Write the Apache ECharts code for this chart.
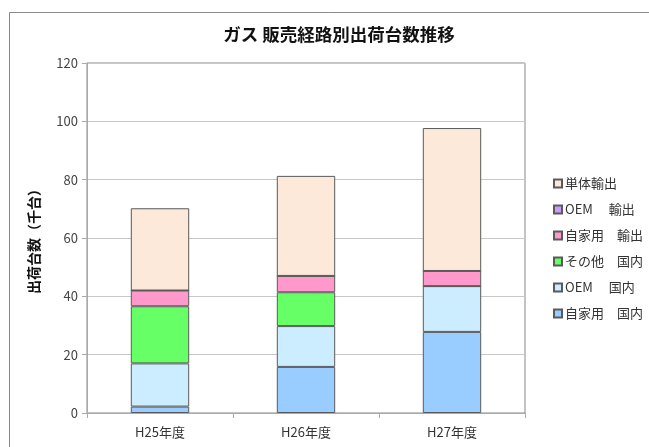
<!DOCTYPE html>
<html><head><meta charset="utf-8">
<script src="https://cdn.jsdelivr.net/npm/echarts@6/dist/echarts.min.js"></script>
<style>html,body{margin:0;padding:0;background:#fff}#c{width:649px;height:447px}</style>
</head><body><div id="c"></div>
<script>
const categories = ['H25年度', 'H26年度', 'H27年度'];
const jikaKokunai = [2.2, 15.8, 27.8];
const oemKokunai = [14.8, 14.0, 15.7];
const sonotaKokunai = [19.6, 11.6, 0];
const jikaYushutsu = [5.4, 5.6, 5.2];
const oemYushutsu = [0, 0, 0];
const tantaiYushutsu = [28.2, 34.3, 49.0];
const yTicks = [0, 20, 40, 60, 80, 100, 120];

const seriesDefs = [
  ['自家用　国内', jikaKokunai, '#99CCFF'],
  ['OEM　 国内', oemKokunai, '#CCECFF'],
  ['その他　国内', sonotaKokunai, '#66FF66'],
  ['自家用　輸出', jikaYushutsu, '#FF99CC'],
  ['OEM　 輸出', oemYushutsu, '#CC99FF'],
  ['単体輸出', tantaiYushutsu, '#FDE9D9']
];
const font = '"Noto Sans CJK JP", "Noto Sans", sans-serif';
const chart = echarts.init(document.getElementById('c'));
chart.setOption({
  animation: false,
  textStyle: {fontFamily: font},
  title: {text: 'ガス 販売経路別出荷台数推移', left: 334, top: 21, textAlign: 'center',
    textStyle: {fontSize: 17.5, fontWeight: 'bold', color: '#111', fontFamily: font}},
  graphic: [{type: 'rect', shape: {x: 9.5, y: 12.5, width: 700, height: 500},
    style: {fill: 'none', stroke: '#8a8a8a', lineWidth: 1}, silent: true}],
  grid: {left: 87, right: 124, top: 63, bottom: 34, show: true, borderColor: '#888', borderWidth: 1, containLabel: false},
  legend: {
    orient: 'vertical', left: 548, top: 172, itemWidth: 8, itemHeight: 8, itemGap: 13,
    icon: 'rect',
    data: seriesDefs.map(s => s[0]).reverse(),
    textStyle: {fontSize: 13, color: '#333', fontFamily: font, padding: [0, 0, 0, -2]}
  },
  xAxis: {
    type: 'category', data: categories,
    axisLine: {lineStyle: {color: '#aaa'}},
    axisTick: {show: true, alignWithLabel: false, length: 5, lineStyle: {color: '#aaa'}},
    axisLabel: {fontSize: 13, color: '#333', margin: 13}
  },
  yAxis: {
    type: 'value', min: 0, max: 120, interval: 20,
    name: '出荷台数（千台）', nameLocation: 'middle', nameGap: 46, nameRotate: 90,
    nameTextStyle: {fontSize: 14, fontWeight: 'bold', color: '#111'},
    axisLine: {show: true, lineStyle: {color: '#aaa'}},
    axisTick: {show: true, length: 5, lineStyle: {color: '#aaa'}},
    axisLabel: {fontSize: 13, color: '#444', margin: 9,
      formatter: v => yTicks.includes(v) ? String(v) : ''},
    splitLine: {lineStyle: {color: '#c8c8c8'}}
  },
  series: seriesDefs.map(([name, data, color]) => ({
    name, type: 'bar', stack: 'total', data, barWidth: '40%',
    itemStyle: {color, borderColor: '#5a5a5a', borderWidth: 1}
  }))
});
</script></body></html>
